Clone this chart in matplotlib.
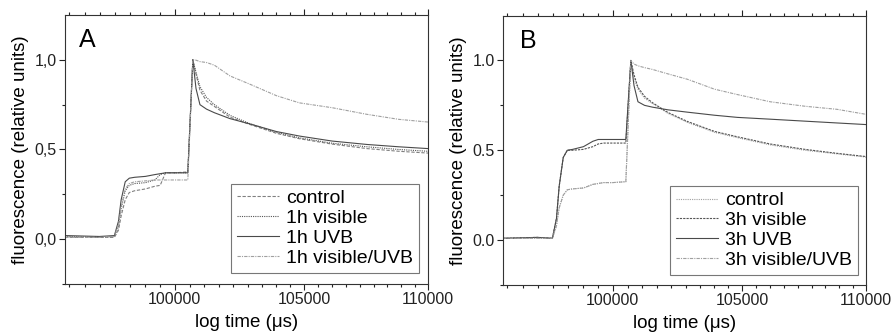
import matplotlib
matplotlib.use("Agg")
import matplotlib.pyplot as plt
from matplotlib.ticker import FixedLocator

plt.rcParams["font.family"] = ["Liberation Sans", "DejaVu Sans"]

# time points (us), shared by both panels
time = [95950, 97200, 97750, 97900, 98000, 98150, 98300, 98500, 98900, 99250,
        99450, 99650, 100000, 100490, 100680, 100800, 100950, 101200, 101500,
        102100, 102850, 103900, 104800, 106100, 107500, 108800, 110000]

# panel A: 1h treatments
a_control = [0.01, 0.01, 0.01, 0.05, 0.13, 0.22, 0.26, 0.27, 0.28, 0.295,
             0.30, 0.37, 0.37, 0.375, 1.0, 0.92, 0.83, 0.77, 0.74,
             0.68, 0.64, 0.59, 0.56, 0.53, 0.505, 0.49, 0.48]
a_visible = [0.015, 0.01, 0.015, 0.07, 0.17, 0.27, 0.30, 0.31, 0.315, 0.33,
             0.36, 0.37, 0.37, 0.37, 1.0, 0.93, 0.85, 0.79, 0.75,
             0.69, 0.645, 0.595, 0.565, 0.535, 0.515, 0.50, 0.49]
a_uvb = [0.02, 0.015, 0.02, 0.10, 0.22, 0.32, 0.34, 0.345, 0.35, 0.36,
         0.365, 0.37, 0.37, 0.37, 1.0, 0.84, 0.75, 0.725, 0.705,
         0.672, 0.643, 0.60, 0.575, 0.547, 0.528, 0.515, 0.505]
a_vis_uvb = [0.01, 0.01, 0.015, 0.08, 0.18, 0.28, 0.31, 0.32, 0.325, 0.33,
             0.33, 0.33, 0.33, 0.33, 1.0, 0.998, 0.99, 0.985, 0.97,
             0.91, 0.865, 0.80, 0.76, 0.733, 0.696, 0.668, 0.653]

# panel B: 3h treatments
b_control = [0.01, 0.01, 0.01, 0.08, 0.18, 0.25, 0.28, 0.285, 0.29, 0.31,
             0.315, 0.32, 0.32, 0.325, 1.0, 0.90, 0.84, 0.79, 0.76,
             0.705, 0.655, 0.60, 0.57, 0.53, 0.50, 0.48, 0.462]
b_visible = [0.01, 0.015, 0.01, 0.12, 0.30, 0.46, 0.50, 0.50, 0.505, 0.52,
             0.535, 0.54, 0.54, 0.54, 1.0, 0.92, 0.85, 0.80, 0.765,
             0.71, 0.66, 0.605, 0.575, 0.535, 0.505, 0.483, 0.465]
b_uvb = [0.01, 0.015, 0.01, 0.12, 0.30, 0.46, 0.50, 0.505, 0.52, 0.55,
         0.56, 0.56, 0.56, 0.56, 1.0, 0.86, 0.77, 0.75, 0.74,
         0.725, 0.712, 0.695, 0.683, 0.673, 0.662, 0.652, 0.643]
b_vis_uvb = [0.01, 0.01, 0.01, 0.08, 0.18, 0.25, 0.28, 0.285, 0.29, 0.31,
             0.315, 0.32, 0.32, 0.325, 1.0, 0.98, 0.97, 0.96, 0.95,
             0.925, 0.895, 0.84, 0.81, 0.77, 0.745, 0.728, 0.70]

a_labels = ["control", "1h visible", "1h UVB", "1h visible/UVB"]
b_labels = ["control", "3h visible", "3h UVB", "3h visible/UVB"]

x_major = [100000, 105000, 110000]
x_minor = [100000 + k * 5000 / 9 for k in range(-7, 18)]

fig = plt.figure(figsize=(8.93, 3.36), dpi=100)
axA = fig.add_axes([0.0728, 0.1548, 0.4065, 0.8006])
axB = fig.add_axes([0.5633, 0.1518, 0.4065, 0.802])

# (color, dashes) per series
a_styles = [("#808080", (3, 1.5)), ("#555555", (1, 1)),
            ("#4a4a4a", None), ("#a0a0a0", (3, 1, 1, 1))]
b_styles = [("#a0a0a0", (1, 1)), ("#555555", (2, 1)),
            ("#4a4a4a", None), ("#a0a0a0", (3, 1, 1, 1))]

for ax, series, labels, styles in [
    (axA, [a_control, a_visible, a_uvb, a_vis_uvb], a_labels, a_styles),
    (axB, [b_control, b_visible, b_uvb, b_vis_uvb], b_labels, b_styles),
]:
    for vals, lab, (col, dash) in zip(series, labels, styles):
        line, = ax.plot(time, vals, color=col, lw=0.8, label=lab)
        if dash is not None:
            line.set_dashes(dash)
    ax.set_xscale("log")
    ax.set_xlim(95950, 110000)
    ax.set_ylim(-0.25, 1.25)
    ax.xaxis.set_major_locator(FixedLocator(x_major))
    ax.xaxis.set_minor_locator(FixedLocator(x_minor))
    ax.set_xticklabels([str(v) for v in x_major])
    ax.set_xticklabels([], minor=True)
    ax.set_yticks([0.0, 0.5, 1.0])
    ax.set_yticks([-0.25, 0.25, 0.75], minor=True)
    ax.tick_params(which="both", direction="out", top=True, right=False,
                   labelsize=11.5, pad=2, width=0.8, colors="#222222")
    ax.tick_params(which="major", length=4)
    ax.tick_params(which="minor", length=2.3)
    for sp in ax.spines.values():
        sp.set_linewidth(0.8)
        sp.set_color("#333333")
    ax.set_xlabel("log time (\u03bcs)", fontsize=13.5, labelpad=5)
    ax.set_ylabel("fluorescence (relative units)", fontsize=13.5, labelpad=4)

axA.set_yticklabels(["0,0", "0,5", "1,0"])
axB.set_yticklabels(["0.0", "0.5", "1.0"])

axA.text(0.039, 0.882, "A", transform=axA.transAxes, fontsize=18, va="baseline")
axB.text(0.047, 0.878, "B", transform=axB.transAxes, fontsize=18, va="baseline")

for ax, anchor in [(axA, (0.975, 0.041)), (axB, (0.978, 0.037))]:
    leg = ax.legend(loc="lower right", bbox_to_anchor=anchor, borderaxespad=0,
                    fontsize=14, fancybox=False, handlelength=2.2,
                    handletextpad=0.35, labelspacing=0.12, borderpad=0.3)
    leg.get_frame().set_edgecolor("#555555")
    leg.get_frame().set_linewidth(0.8)

fig.savefig("out.png", dpi=100)
